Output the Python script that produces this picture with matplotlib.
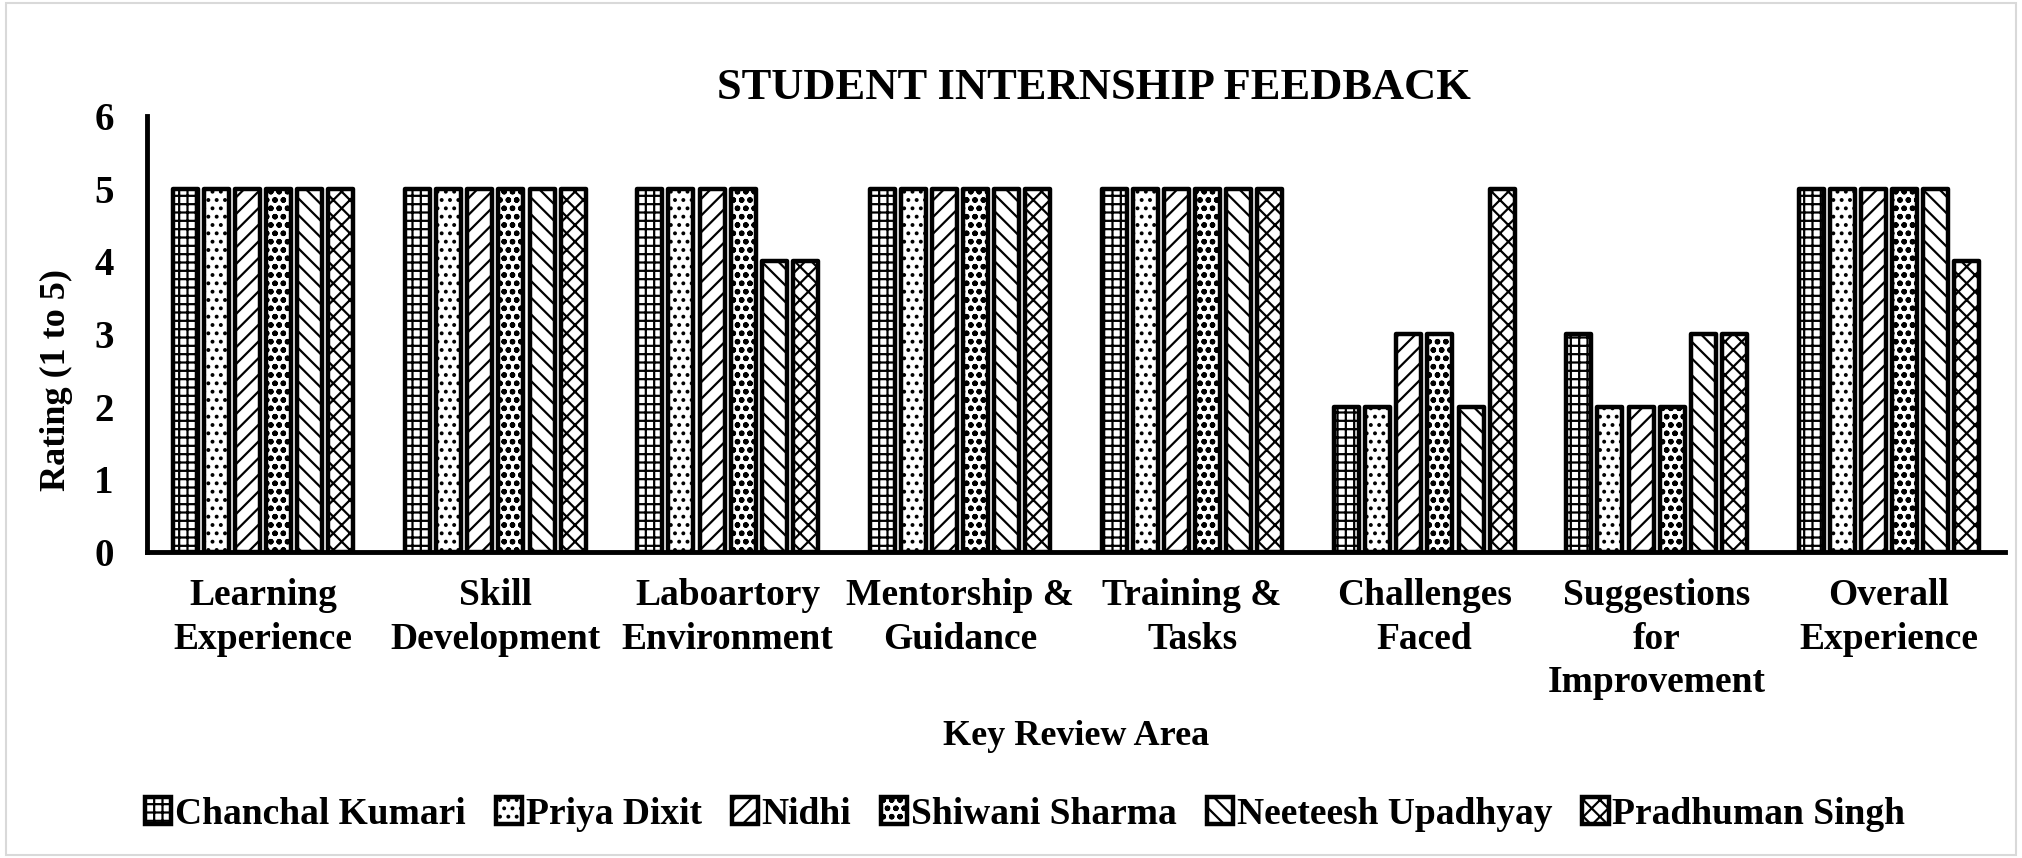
import matplotlib
matplotlib.use("Agg")
import matplotlib.pyplot as plt
import numpy as np
from matplotlib.patches import Rectangle

categories = ["Learning\nExperience", "Skill\nDevelopment", "Laboartory\nEnvironment",
              "Mentorship &\nGuidance", "Training &\nTasks", "Challenges\nFaced",
              "Suggestions\nfor\nImprovement", "Overall\nExperience"]
students = ["Chanchal Kumari", "Priya Dixit", "Nidhi", "Shiwani Sharma",
            "Neeteesh Upadhyay", "Pradhuman Singh"]
chanchal = [5, 5, 5, 5, 5, 2, 3, 5]
priya = [5, 5, 5, 5, 5, 2, 2, 5]
nidhi = [5, 5, 5, 5, 5, 3, 2, 5]
shiwani = [5, 5, 5, 5, 5, 3, 2, 5]
neeteesh = [5, 5, 4, 5, 5, 2, 3, 5]
pradhuman = [5, 5, 4, 5, 5, 5, 3, 4]
series = [chanchal, priya, nidhi, shiwani, neeteesh, pradhuman]
hatches = ["++", "..", "//", "oo", "\\\\", "xx"]

plt.rcParams["font.family"] = ["Liberation Serif", "DejaVu Serif"]
plt.rcParams["font.weight"] = "bold"
plt.rcParams["hatch.linewidth"] = 1.6
plt.rcParams["hatch.color"] = "black"

fig = plt.figure(figsize=(20.22, 8.58), dpi=100)
ax = fig.add_axes([0.0727, 0.3566, 0.9189, 0.5082])

x = np.arange(len(categories))
pitch = 0.134
width = 0.108
for i, (vals, name, h) in enumerate(zip(series, students, hatches)):
    ax.bar(x + (i - 2.5) * pitch, vals, width, facecolor="white", edgecolor="black",
           linewidth=3.2, hatch=h, label=name, joinstyle="round")

ax.set_xlim(-0.5, 7.5)
ax.set_ylim(0, 6)
ax.set_yticks(range(0, 7))
ax.set_xticks(x)
ax.set_xticklabels(categories, fontsize=27, fontweight="bold", linespacing=1.3)
ax.tick_params(axis="both", length=0)
ax.tick_params(axis="x", pad=19)
ax.tick_params(axis="y", pad=24, labelsize=28)
for s in ["top", "right"]:
    ax.spines[s].set_visible(False)
for s in ["left", "bottom"]:
    ax.spines[s].set_linewidth(3.5)

ax.set_ylabel("Rating (1 to 5)", fontsize=26, fontweight="bold")
ax.yaxis.set_label_coords(-0.040, 0.394)
ax.set_xlabel("Key Review Area", fontsize=26, fontweight="bold")
ax.xaxis.set_label_coords(0.5, -0.385)

fig.text(0.541, 0.897, "STUDENT INTERNSHIP FEEDBACK", ha="center", va="center",
         fontsize=32, fontweight="bold")

leg = fig.legend(loc="center", bbox_to_anchor=(0.507, 0.051), ncol=6, frameon=False,
                 fontsize=27, handlelength=0.7, handleheight=0.7, handletextpad=0.1,
                 columnspacing=0.8)

fig.patches.append(Rectangle((0.003, 0.003), 0.994, 0.994, transform=fig.transFigure,
                             fill=False, edgecolor="#d9d9d9", linewidth=1.5))

fig.savefig("out.png", dpi=100)
